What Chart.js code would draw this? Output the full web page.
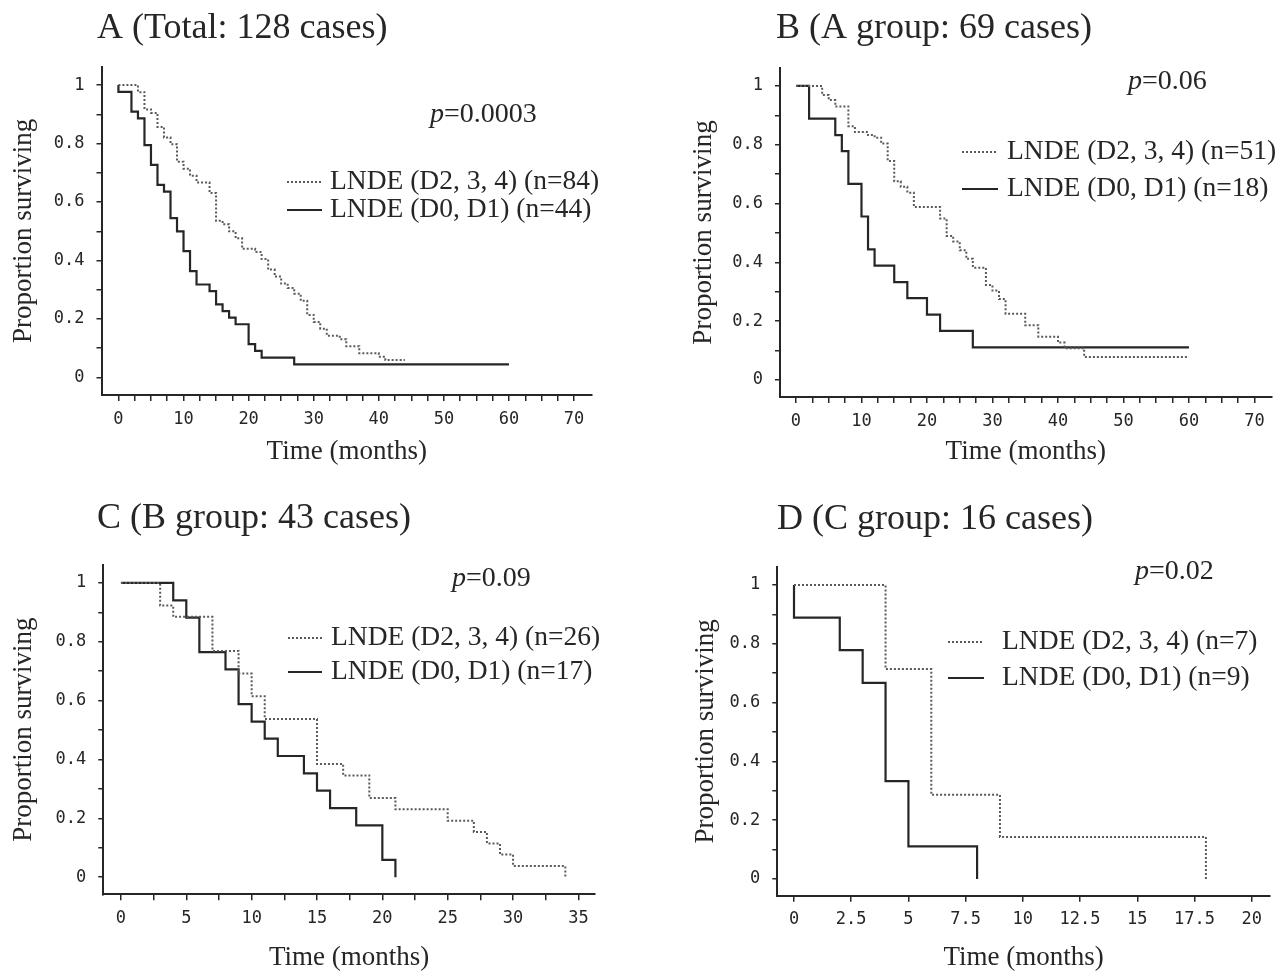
<!DOCTYPE html>
<html>
<head>
<meta charset="utf-8">
<title>Survival by LNDE</title>
<script src="https://cdn.jsdelivr.net/npm/chart.js@4.4.1/dist/chart.umd.min.js"></script>
<style>
  body { margin: 0; background: #fff; }
  #wrap { position: relative; width: 1287px; height: 972px; }
  #wrap canvas { position: absolute; left: 0; top: 0; }
</style>
</head>
<body>
<div id="wrap">
  <canvas id="chartA" width="1287" height="972"></canvas>
  <canvas id="chartB" width="1287" height="972"></canvas>
  <canvas id="chartC" width="1287" height="972"></canvas>
  <canvas id="chartD" width="1287" height="972"></canvas>
</div>
<script>
// --- data (months, proportion surviving) ---
const aDotTime = [0, 3, 4, 5, 6, 7, 8, 9, 10, 11, 12, 14, 15, 16, 17, 18, 19, 21, 22, 23, 24, 25, 26, 27, 28, 29, 30, 31, 32, 34, 35, 37, 40, 41, 44];
const aDotSurv = [1, 0.976, 0.917, 0.905, 0.857, 0.821, 0.798, 0.738, 0.714, 0.69, 0.667, 0.631, 0.536, 0.524, 0.5, 0.476, 0.44, 0.429, 0.405, 0.369, 0.345, 0.321, 0.306, 0.286, 0.262, 0.214, 0.19, 0.167, 0.143, 0.131, 0.107, 0.083, 0.071, 0.06, 0.06];
const aSolidTime = [0, 0, 2, 3, 4, 5, 6, 7, 8, 9, 10, 11, 12, 14, 15, 16, 17, 18, 20, 21, 22, 27, 60];
const aSolidSurv = [1, 0.977, 0.909, 0.886, 0.795, 0.727, 0.659, 0.636, 0.545, 0.5, 0.432, 0.364, 0.318, 0.295, 0.25, 0.227, 0.205, 0.182, 0.114, 0.091, 0.068, 0.045, 0.045];

const bDotTime = [0, 4, 5, 6, 8, 9, 11, 12, 13, 14, 15, 16, 17, 18, 22, 23, 24, 25, 26, 27, 29, 30, 31, 32, 35, 37, 40, 41, 44, 60];
const bDotSurv = [1, 0.969, 0.952, 0.93, 0.863, 0.843, 0.833, 0.824, 0.804, 0.745, 0.676, 0.657, 0.637, 0.588, 0.549, 0.49, 0.471, 0.441, 0.412, 0.382, 0.323, 0.304, 0.275, 0.225, 0.186, 0.147, 0.127, 0.108, 0.078, 0.078];
const bSolidTime = [0, 2, 6, 7, 8, 10, 11, 12, 15, 17, 20, 22, 27, 60];
const bSolidSurv = [1, 0.889, 0.833, 0.778, 0.667, 0.556, 0.444, 0.389, 0.333, 0.278, 0.222, 0.167, 0.111, 0.111];

const cDotTime = [0, 3, 4, 7, 9, 10, 11, 15, 17, 19, 21, 25, 27, 28, 29, 30, 34];
const cDotSurv = [1, 0.923, 0.885, 0.769, 0.692, 0.615, 0.538, 0.385, 0.346, 0.269, 0.231, 0.192, 0.154, 0.115, 0.077, 0.038, 0];
const cSolidTime = [0, 4, 5, 6, 8, 9, 10, 11, 12, 14, 15, 16, 18, 20, 21];
const cSolidSurv = [1, 0.941, 0.882, 0.765, 0.706, 0.588, 0.529, 0.471, 0.412, 0.353, 0.294, 0.235, 0.176, 0.059, 0];

const dDotTime = [0, 4, 6, 9, 18];
const dDotSurv = [1, 0.714, 0.286, 0.143, 0];
const dSolidTime = [0, 0, 2, 3, 4, 5, 8];
const dSolidSurv = [1, 0.889, 0.778, 0.667, 0.333, 0.111, 0];

const panelTitles = ['A (Total: 128 cases)', 'B (A group: 69 cases)', 'C (B group: 43 cases)', 'D (C group: 16 cases)'];
const pValues = ['0.0003', '0.06', '0.09', '0.02'];
const dotLabels = ['LNDE (D2, 3, 4) (n=84)', 'LNDE (D2, 3, 4) (n=51)', 'LNDE (D2, 3, 4) (n=26)', 'LNDE (D2, 3, 4) (n=7)'];
const solidLabels = ['LNDE (D0, D1) (n=44)', 'LNDE (D0, D1) (n=18)', 'LNDE (D0, D1) (n=17)', 'LNDE (D0, D1) (n=9)'];
const xLastTick = [70, 70, 35, 20];
const xLabelEvery = [10, 10, 5, 2.5];

const SERIF = '"Liberation Serif", "Times New Roman", serif';
const MONO = '"DejaVu Sans Mono", monospace';
const INK = '#262626';
const AXIS_TITLE = 27;
const HALF_TITLE = AXIS_TITLE * 1.2 / 2;
const W = 1287, H = 972;

function steps(times, surv) {
  return times.map((t, i) => ({ x: t, y: surv[i] }));
}

function fmt(v) {
  return String(Math.round(v * 10) / 10);
}

function onStep(v, every) {
  const r = v / every;
  return Math.abs(r - Math.round(r)) < 1e-6;
}

// titles, p values and legends drawn inside each panel
const panelText = {
  id: 'panelText',
  afterDraw(chart, args, o) {
    const ctx = chart.ctx;
    ctx.save();
    ctx.fillStyle = INK;
    ctx.textBaseline = 'middle';
    ctx.textAlign = 'left';
    ctx.font = '36px ' + SERIF;
    ctx.fillText(o.title, o.titleX, o.titleY);

    ctx.font = 'italic 28px ' + SERIF;
    ctx.fillText('p', o.pX, o.pY);
    const pw = ctx.measureText('p').width;
    ctx.font = '28px ' + SERIF;
    ctx.fillText('=' + o.p, o.pX + pw, o.pY);

    chart.data.datasets.forEach((ds, i) => {
      const y = o.legY[i];
      ctx.strokeStyle = ds.borderColor;
      ctx.lineWidth = ds.borderWidth;
      ctx.setLineDash(ds.borderDash || []);
      ctx.beginPath();
      ctx.moveTo(o.legX0, y);
      ctx.lineTo(o.legX1, y);
      ctx.stroke();
      ctx.setLineDash([]);
      ctx.font = '27.5px ' + SERIF;
      ctx.fillText(ds.label, o.legTextX, y);
    });
    ctx.restore();
  }
};

function makePanel(id, k, times, g, text) {
  return new Chart(document.getElementById(id), {
    type: 'line',
    data: {
      datasets: [
        {
          label: dotLabels[k],
          data: steps(times[0], times[1]),
          stepped: true,
          borderColor: '#5a5a5a',
          borderWidth: 2,
          borderDash: [2, 2],
          pointRadius: 0,
          fill: false
        },
        {
          label: solidLabels[k],
          data: steps(times[2], times[3]),
          stepped: true,
          borderColor: INK,
          borderWidth: 2.2,
          pointRadius: 0,
          fill: false
        }
      ]
    },
    plugins: [panelText],
    options: {
      responsive: false,
      animation: false,
      events: [],
      layout: {
        padding: {
          left: g.yTitleX - HALF_TITLE,
          top: g.top,
          right: W - g.right,
          bottom: H - g.xTitleY - HALF_TITLE
        }
      },
      plugins: {
        legend: { display: false },
        tooltip: { enabled: false },
        panelText: Object.assign({ title: panelTitles[k], p: pValues[k] }, text)
      },
      scales: {
        x: {
          type: 'linear',
          min: g.xMin,
          max: g.xMax,
          border: { color: INK, width: 2 },
          grid: { drawOnChartArea: false, color: INK, lineWidth: 1.5, tickLength: 6 },
          ticks: {
            stepSize: 2.5,
            autoSkip: false,
            maxRotation: 0,
            includeBounds: false,
            padding: 8,
            color: INK,
            font: { family: MONO, size: 17 },
            callback: v => onStep(v, xLabelEvery[k]) ? fmt(v) : ''
          },
          afterBuildTicks: s => {
            s.ticks = s.ticks.filter(t => t.value > -1e-6 && t.value < xLastTick[k] + 1e-6);
          },
          afterFit: s => { s.height = g.xTitleY + HALF_TITLE - g.bottom; },
          title: {
            display: true,
            text: 'Time (months)',
            color: INK,
            padding: 0,
            font: { family: SERIF, size: AXIS_TITLE }
          }
        },
        y: {
          type: 'linear',
          min: g.yMin,
          max: g.yMax,
          border: { color: INK, width: 2 },
          grid: { drawOnChartArea: false, color: INK, lineWidth: 1.5, tickLength: 5 },
          ticks: {
            stepSize: 0.1,
            autoSkip: false,
            includeBounds: false,
            padding: 12,
            color: INK,
            font: { family: MONO, size: 17 },
            callback: v => onStep(v, 0.2) ? fmt(v) : ''
          },
          afterBuildTicks: s => {
            s.ticks = s.ticks.filter(t => t.value > -1e-6 && t.value < 1 + 1e-6);
          },
          afterFit: s => { s.width = g.left - (g.yTitleX - HALF_TITLE); },
          title: {
            display: true,
            text: 'Proportion surviving',
            color: INK,
            padding: 0,
            font: { family: SERIF, size: AXIS_TITLE }
          }
        }
      }
    }
  });
}

makePanel('chartA', 0, [aDotTime, aDotSurv, aSolidTime, aSolidSurv],
  { left: 101.5, right: 592, top: 66.7, bottom: 395, yTitleX: 24, xTitleY: 452,
    xMin: -2.6, xMax: 72.75, yMin: -0.06, yMax: 1.063 },
  { titleX: 97, titleY: 29, pX: 430, pY: 115, legX0: 287, legX1: 322, legTextX: 330, legY: [182, 210] });

makePanel('chartB', 1, [bDotTime, bDotSurv, bSolidTime, bSolidSurv],
  { left: 780, right: 1271.5, top: 68, bottom: 397, yTitleX: 704, xTitleY: 452,
    xMin: -2.44, xMax: 72.6, yMin: -0.058, yMax: 1.061 },
  { titleX: 776, titleY: 29, pX: 1128, pY: 82, legX0: 962, legX1: 998, legTextX: 1007, legY: [152, 189] });

makePanel('chartC', 2, [cDotTime, cDotSurv, cSolidTime, cSolidSurv],
  { left: 103.3, right: 595, top: 565, bottom: 894.3, yTitleX: 24, xTitleY: 958,
    xMin: -1.35, xMax: 36.27, yMin: -0.058, yMax: 1.061 },
  { titleX: 97, titleY: 519, pX: 452, pY: 579, legX0: 288, legX1: 322, legTextX: 331, legY: [638, 672] });

makePanel('chartD', 3, [dDotTime, dDotSurv, dSolidTime, dSolidSurv],
  { left: 777.3, right: 1270, top: 567, bottom: 895.7, yTitleX: 706, xTitleY: 958,
    xMin: -0.73, xMax: 20.8, yMin: -0.057, yMax: 1.061 },
  { titleX: 777, titleY: 520, pX: 1135, pY: 572, legX0: 948, legX1: 984, legTextX: 1002, legY: [642, 678] });
</script>
</body>
</html>
